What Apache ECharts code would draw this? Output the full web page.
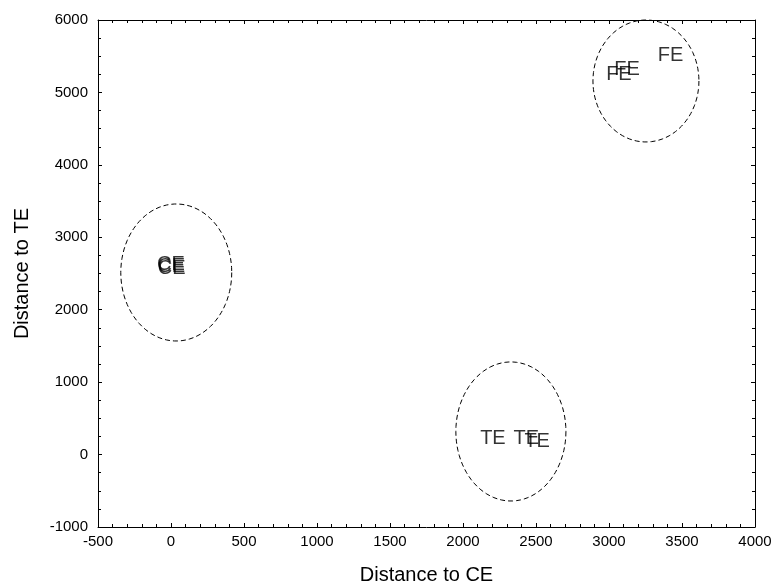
<!DOCTYPE html>
<html>
<head>
<meta charset="utf-8">
<script src="https://cdn.jsdelivr.net/npm/echarts@6/dist/echarts.min.js"></script>
<style>
html, body {margin: 0; padding: 0; background: #fff;}
#main {width: 775px; height: 588px;}
</style>
</head>
<body>
<div id="main"></div>
<script>
// label points (x = distance to CE, y = distance to TE)
var ceX = [0, 2, 4];
var ceY = [2620, 2595, 2565];
var feX = [3068, 3123, 3421];
var feY = [5241, 5323, 5510];
var teX = [2205, 2433, 2508];
var teY = [219, 219, 187];

// dashed ellipses: centre x, centre y, radius x, radius y  (CE, FE, TE)
var ellCx = [36, 3253, 2328];
var ellCy = [2514, 5158, 319];
var ellRx = [380, 363, 377];
var ellRy = [946, 842, 960];

// axis ranges
var xRange = [-500, 4000, 500];
var yRange = [-1000, 6000, 1000];

var font = 'Liberation Sans, Arial, sans-serif';

var pts = function (xs, ys, name) {
    var out = [];
    for (var i = 0; i < xs.length; i++) {
        out.push([xs[i], ys[i], name]);
    }
    return out;
};
var labelData = [].concat(pts(ceX, ceY, 'CE'), pts(feX, feY, 'FE'), pts(teX, teY, 'TE'));

var ellData = [];
for (var i = 0; i < ellCx.length; i++) {
    ellData.push([ellCx[i], ellCy[i], ellRx[i], ellRy[i]]);
}

var baseAxis = function (r, pos, showLabel, minorSplit, margin) {
    return {
        type: 'value',
        position: pos,
        min: r[0],
        max: r[1],
        interval: r[2],
        axisLine: {show: true, onZero: false, lineStyle: {color: '#000', width: 1}},
        axisTick: {show: true, inside: true, length: 4, lineStyle: {color: '#000'}},
        minorTick: {show: true, splitNumber: minorSplit, length: 3, lineStyle: {color: '#000'}},
        axisLabel: {
            show: showLabel, color: '#000', fontSize: 15, fontFamily: font, margin: margin,
            formatter: function (v) { return String(v); }
        },
        splitLine: {show: false}
    };
};

var xBottom = baseAxis(xRange, 'bottom', true, 5, 7);
xBottom.name = 'Distance to CE';
xBottom.nameLocation = 'middle';
xBottom.nameGap = 38;
xBottom.nameTextStyle = {color: '#000', fontSize: 20, fontFamily: font};

var yLeft = baseAxis(yRange, 'left', true, 4, 10);
yLeft.name = 'Distance to TE';
yLeft.nameLocation = 'middle';
yLeft.nameGap = 66;
yLeft.nameTextStyle = {color: '#000', fontSize: 20, fontFamily: font};

var chart = echarts.init(document.getElementById('main'));
chart.setOption({
    animation: false,
    backgroundColor: '#fff',
    grid: {left: 98, right: 20, top: 20, bottom: 61, containLabel: false, outerBoundsMode: 'none'},
    xAxis: [xBottom, baseAxis(xRange, 'top', false, 5, 7)],
    yAxis: [yLeft, baseAxis(yRange, 'right', false, 4, 10)],
    series: [
        {
            type: 'custom',
            xAxisIndex: 0,
            yAxisIndex: 0,
            data: ellData,
            renderItem: function (params, api) {
                var c = api.coord([api.value(0), api.value(1)]);
                var s = api.size([api.value(2), api.value(3)]);
                var ring = [];
                for (var k = 0; k <= 90; k++) {
                    var a = k / 90 * 2 * Math.PI;
                    ring.push([c[0] + s[0] * Math.cos(a), c[1] + s[1] * Math.sin(a)]);
                }
                return {
                    type: 'polyline',
                    shape: {points: ring},
                    style: {fill: 'none', stroke: '#000', lineWidth: 1, lineDash: [5, 3]}
                };
            }
        },
        {
            type: 'scatter',
            xAxisIndex: 0,
            yAxisIndex: 0,
            data: labelData,
            symbolSize: 1,
            itemStyle: {color: 'rgba(0,0,0,0)'},
            label: {
                show: true,
                position: 'inside',
                color: '#000',
                fontSize: 20,
                fontFamily: font,
                formatter: function (p) { return p.data[2]; }
            },
            emphasis: {disabled: true}
        }
    ]
});
</script>
</body>
</html>
